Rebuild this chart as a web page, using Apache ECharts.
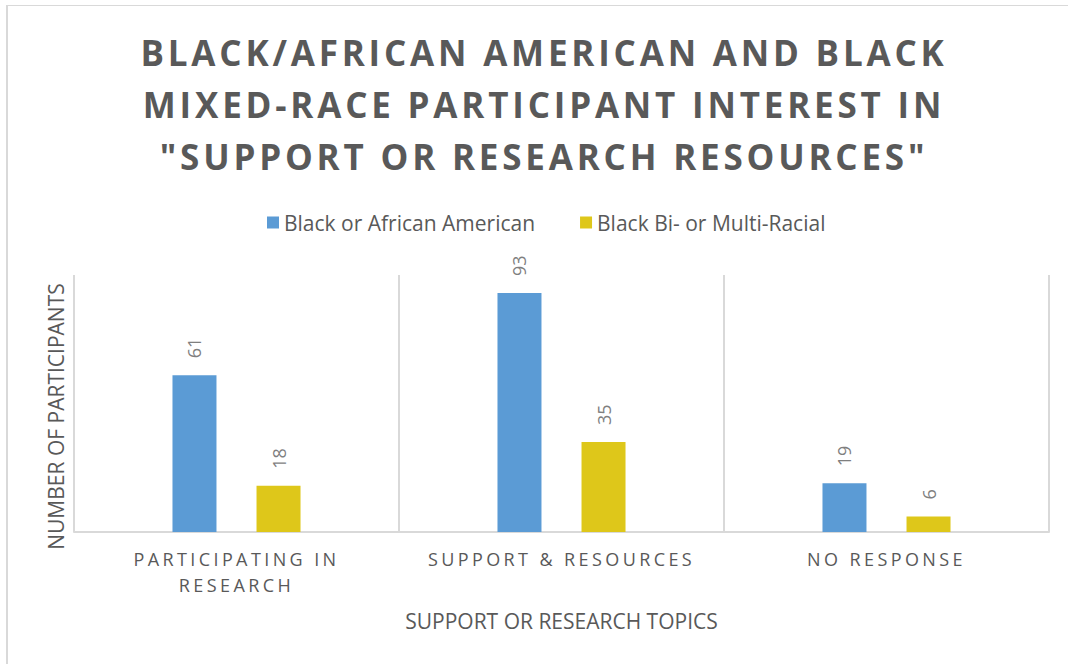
<!DOCTYPE html>
<html>
<head>
<meta charset="utf-8">
<script src="https://cdn.jsdelivr.net/npm/echarts@6/dist/echarts.min.js"></script>
<style>
  html, body { margin: 0; padding: 0; background: #fff; }
  #chart { width: 1068px; height: 664px; }
</style>
</head>
<body>
<div id="chart"></div>
<script>
const titleLines = [
  'BLACK/AFRICAN AMERICAN AND BLACK',
  'MIXED-RACE PARTICIPANT INTEREST IN',
  '"SUPPORT OR RESEARCH RESOURCES"',
]
const categories = ['PARTICIPATING IN\nRESEARCH', 'SUPPORT & RESOURCES', 'NO RESPONSE']
const seriesNames = ['Black or African American', 'Black Bi- or Multi-Racial']
const blackAfricanAmerican = [61, 93, 19]
const blackMultiRacial = [18, 35, 6]
const colors = ['#5b9bd5', '#dec71a']

// svg renderer so that the spaced-out caps (title, category labels) can get letter-spacing
const chart = echarts.init(document.getElementById('chart'), null, { renderer: 'svg' })

const labelStyle = {
  show: true,
  position: 'top',
  rotate: 90,
  align: 'left',
  verticalAlign: 'middle',
  distance: 17,
  color: '#7f7f7f',
  fontSize: 18,
  fontFamily: 'Open Sans',
}

chart.setOption({
  backgroundColor: '#fff',
  animation: false,
  title: {
    text: titleLines.join('\n'),
    left: 544,
    top: 21,
    textAlign: 'center',
    padding: [5, 0, 5, 0],
    textStyle: {
      color: '#595959',
      fontSize: 35,
      fontWeight: 'bold',
      fontFamily: 'Open Sans',
      lineHeight: 52,
    },
  },
  legend: {
    top: 207,
    left: 262,
    itemWidth: 12,
    itemHeight: 12,
    itemGap: 45,
    itemTextGap: 7,
    icon: 'rect',
    textStyle: { color: '#595959', fontSize: 21, fontFamily: 'Open Sans' },
    data: seriesNames,
  },
  grid: { left: 74, right: 19, top: 275, bottom: 132 },
  xAxis: {
    type: 'category',
    data: categories,
    name: 'SUPPORT OR RESEARCH TOPICS',
    nameLocation: 'middle',
    nameGap: 78,
    nameTextStyle: { color: '#595959', fontSize: 21, fontFamily: 'Open Sans' },
    axisLine: { lineStyle: { color: '#d9d9d9', width: 2 } },
    axisTick: { show: false },
    splitLine: { show: true, lineStyle: { color: '#d9d9d9', width: 2 } },
    axisLabel: {
      color: '#595959',
      fontSize: 18,
      fontFamily: 'Open Sans',
      margin: 14,
      lineHeight: 26,
    },
  },
  yAxis: {
    type: 'value',
    min: 0,
    max: 100,
    name: 'NUMBER OF PARTICIPANTS',
    nameLocation: 'middle',
    nameGap: 8,
    nameTextStyle: { color: '#595959', fontSize: 21, fontFamily: 'Open Sans', padding: [0, 26, 0, 0] },
    axisLine: { show: false },
    axisTick: { show: false },
    axisLabel: { show: false },
    splitLine: { show: false },
  },
  series: [
    {
      name: seriesNames[0],
      type: 'bar',
      data: blackAfricanAmerican,
      itemStyle: { color: colors[0] },
      barWidth: 44,
      barGap: '91%',
      label: labelStyle,
    },
    {
      name: seriesNames[1],
      type: 'bar',
      data: blackMultiRacial,
      itemStyle: { color: colors[1] },
      barWidth: 44,
      label: labelStyle,
    },
  ],
  graphic: [
    { type: 'line', shape: { x1: 7, y1: 5, x2: 7, y2: 664 }, style: { stroke: '#d9d9d9', lineWidth: 2 } },
    { type: 'line', shape: { x1: 6, y1: 5.5, x2: 1068, y2: 5.5 }, style: { stroke: '#d9d9d9', lineWidth: 1 } },
  ],
})

const catLines = categories.join('\n').split('\n')
function applySpacing() {
  document.querySelectorAll('#chart svg text').forEach((t) => {
    const s = t.textContent
    if (titleLines.includes(s)) t.setAttribute('letter-spacing', '3.8px')
    else if (catLines.includes(s)) t.setAttribute('letter-spacing', '3.4px')
  })
}
chart.on('finished', applySpacing)
applySpacing()
setTimeout(applySpacing, 0)
</script>
</body>
</html>
